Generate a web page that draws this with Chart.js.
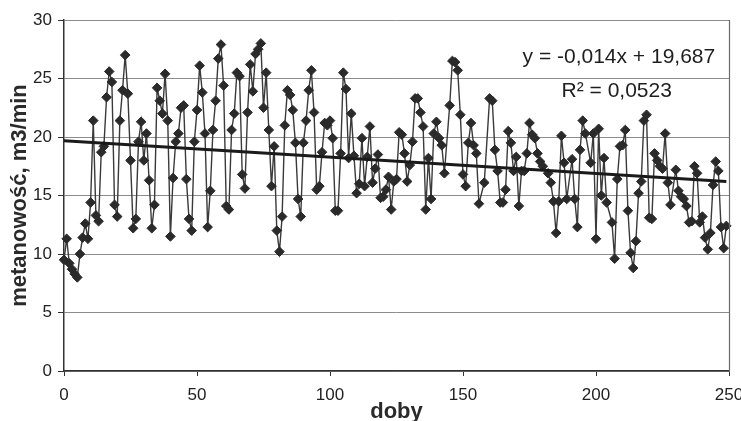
<!DOCTYPE html>
<html><head><meta charset="utf-8">
<script src="https://cdn.jsdelivr.net/npm/chart.js@4/dist/chart.umd.min.js"></script>
<style>html,body{margin:0;padding:0;background:#fff}#c{display:block}</style>
</head><body>
<canvas id="c" width="741" height="421"></canvas>
<script>
const days = [
  0,1,2,3,4,5,6,7,8,9,10,11,12,13,14,15,16,17,18,19,
  20,21,22,23,24,25,26,27,28,29,30,31,32,33,34,35,36,37,38,39,
  40,41,42,43,44,45,46,47,48,49,50,51,52,53,54,55,56,57,58,59,
  60,61,62,63,64,65,66,67,68,69,70,71,72,73,74,75,76,77,78,79,
  80,81,82,83,84,85,86,87,88,89,90,91,92,93,94,95,96,97,98,99,
  100,101,102,103,104,105,106,107,108,109,110,111,112,113,114,115,116,117,118,119,
  120,121,122,123,124,125,126,127,128,129,130,131,132,133,134,135,136,137,138,139,
  140,141,142,143,145,146,147,148,149,150,151,152,153,154,155,156,
  158,160,161,162,163,164,165,166,167,168,169,170,171,172,173,174,175,176,177,178,179,180,
  182,183,184,185,186,187,188,189,191,192,193,194,195,196,198,199,200,201,202,203,204,
  206,207,208,209,210,211,212,213,214,215,216,217,218,219,220,221,222,223,224,225,226,227,228,
  230,231,232,233,234,235,236,237,238,239,240,241,242,243,244,245,246,247,248,249
];
const values = [
  9.5,11.3,9.2,8.7,8.3,8.0,10.0,11.4,12.6,11.3,14.4,21.4,13.3,12.8,18.7,19.2,23.4,25.6,24.7,14.2,
  13.2,21.4,24.0,27.0,23.7,18.0,12.2,13.0,19.6,21.3,18.0,20.3,16.3,12.2,14.2,24.2,23.1,22.0,25.4,21.4,
  11.5,16.5,19.6,20.3,22.5,22.7,16.4,13.0,12.0,19.6,22.3,26.1,23.8,20.3,12.3,15.4,20.6,23.1,26.7,27.9,
  24.4,14.1,13.8,20.6,22.0,25.5,25.2,16.8,15.6,22.1,26.2,23.9,27.1,27.5,28.0,22.5,25.5,20.6,15.8,19.2,
  12.0,10.2,13.2,21.0,24.0,23.6,22.3,19.5,14.7,13.2,19.5,21.4,24.0,25.7,22.1,15.5,15.8,18.7,21.2,21.0,
  21.4,19.9,13.7,13.7,18.6,25.5,24.1,18.2,22.0,18.4,15.2,16.0,19.9,15.8,18.3,20.9,16.1,17.3,18.5,14.8,
  14.9,15.5,16.6,13.8,16.2,16.4,20.4,20.2,18.6,16.2,17.6,19.6,23.3,23.3,22.1,20.9,13.8,18.2,14.7,20.3,
  21.3,19.9,19.3,16.9,22.7,26.5,26.4,25.7,21.9,16.8,15.8,19.5,21.2,19.3,18.6,14.3,
  16.1,23.3,23.1,18.9,17.1,14.4,14.4,15.5,20.5,19.5,17.1,18.3,14.1,17.1,17.1,18.6,21.2,20.2,19.9,18.6,17.9,17.5,
  16.9,16.1,14.5,11.8,14.5,20.1,17.8,14.7,18.1,14.7,12.3,18.9,21.4,20.3,17.8,20.3,11.3,20.7,15.0,18.2,14.4,
  12.7,9.6,16.4,19.2,19.3,20.6,13.7,10.1,8.8,11.1,15.2,16.2,21.4,21.9,13.1,13.0,18.6,18.0,17.5,17.3,20.3,16.1,14.2,
  17.2,15.4,14.9,14.7,14.1,12.7,12.8,17.5,16.9,12.7,13.2,11.4,10.4,11.8,15.9,17.9,17.1,12.3,10.5,12.4
];
const xTicks = [0, 50, 100, 150, 200, 250];
const yTicks = [0, 5, 10, 15, 20, 25, 30];
const trendDays = [0, 249];
const trendValues = [19.69, 16.20];
const equationText = 'y = -0,014x + 19,687';
const r2Text = 'R\u00B2 = 0,0523';
const xTitle = 'doby';
const yTitle = 'metanowo\u015B\u0107, m3/min';

const FONT = "'Liberation Sans', Arial, sans-serif";

const seriesPoints = days.map((d, i) => ({x: d, y: values[i]}));
const trendPoints = trendDays.map((d, i) => ({x: d, y: trendValues[i]}));

const framePlugin = {
  id: 'frame',
  afterDatasetsDraw(chart) {
    const {ctx, chartArea, scales} = chart;
    ctx.save();
    ctx.strokeStyle = '#6a6a6a';
    ctx.lineWidth = 1.2;
    ctx.beginPath();
    ctx.moveTo(chartArea.right + 0.5, chartArea.top);
    ctx.lineTo(chartArea.right + 0.5, chartArea.bottom);
    ctx.stroke();
    ctx.fillStyle = '#1e1e1e';
    ctx.font = '21px ' + FONT;
    ctx.textAlign = 'center';
    ctx.textBaseline = 'middle';
    ctx.fillText(equationText, scales.x.getPixelForValue(208.6), scales.y.getPixelForValue(26.8));
    ctx.fillText(r2Text, scales.x.getPixelForValue(207.8), scales.y.getPixelForValue(23.9));
    ctx.restore();
  }
};

new Chart(document.getElementById('c'), {
  type: 'line',
  data: {
    datasets: [
      {
        label: 'trend',
        data: trendPoints,
        borderColor: '#1a1a1a',
        borderWidth: 3,
        pointRadius: 0,
        order: 0
      },
      {
        label: 'metanowość',
        data: seriesPoints,
        borderColor: '#3a3a3a',
        borderWidth: 1.4,
        pointStyle: 'rectRot',
        pointRadius: 4.8,
        pointBackgroundColor: '#2a2a2a',
        pointBorderColor: '#2a2a2a',
        pointBorderWidth: 1,
        tension: 0,
        clip: false,
        order: 1
      }
    ]
  },
  options: {
    responsive: false,
    animation: false,
    events: [],
    layout: {padding: {top: 20, right: 12, left: 0, bottom: 0}},
    plugins: {legend: {display: false}, tooltip: {enabled: false}},
    scales: {
      x: {
        type: 'linear',
        min: 0, max: 250,
        afterBuildTicks(s) { s.ticks = xTicks.map(v => ({value: v})); },
        afterFit(s) { s.height = 50; s.paddingRight = 0; s.paddingLeft = 0; },
        grid: {drawOnChartArea: false, drawTicks: true, tickLength: 5, color: '#333', lineWidth: 1},
        border: {display: true, color: '#333', width: 1.5},
        ticks: {color: '#222', font: {family: FONT, size: 17}, padding: 9, maxRotation: 0},
        title: {display: true, text: xTitle, color: '#2a2a2a', font: {family: FONT, size: 22, weight: 'bold'}, padding: {top: 0, bottom: -4}}
      },
      y: {
        min: 0, max: 30,
        afterBuildTicks(s) { s.ticks = yTicks.map(v => ({value: v})); },
        afterFit(s) { s.width = 64; },
        grid: {color: '#8c8c8c', lineWidth: 1, drawTicks: true, tickLength: 6, tickColor: '#333'},
        border: {display: true, color: '#333', width: 1.5},
        ticks: {color: '#222', font: {family: FONT, size: 17}, padding: 6},
        title: {display: true, text: yTitle, color: '#2a2a2a', font: {family: FONT, size: 22, weight: 'bold'}, padding: {top: 7, bottom: 0}}
      }
    }
  },
  plugins: [framePlugin]
});
</script>
</body></html>
